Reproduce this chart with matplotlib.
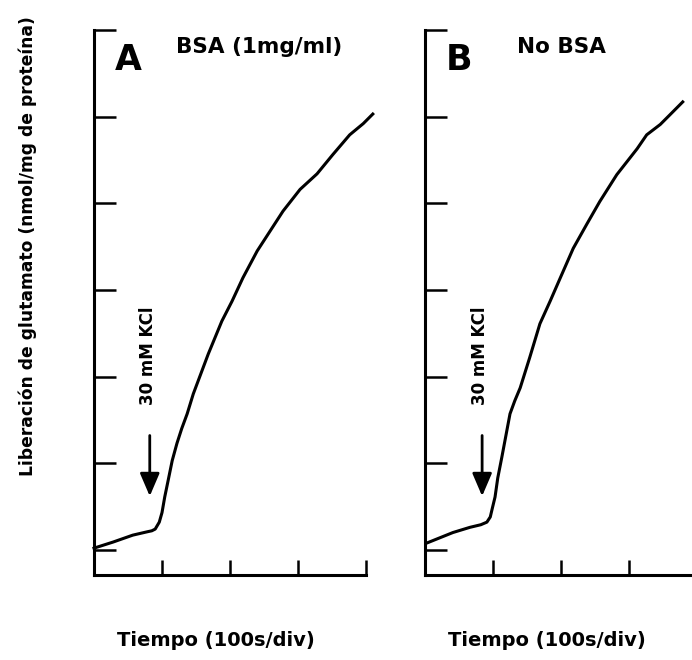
import matplotlib.pyplot as plt

plt.rcParams['font.family'] = ['DejaVu Sans']
plt.rcParams['font.weight'] = 'bold'

# Tiempo en divisiones (100 s/div), liberación en divisiones del eje Y
tiempo_a = [0.0, 0.28, 0.57, 0.79, 0.85, 0.90, 0.96, 1.0, 1.04, 1.09, 1.15,
            1.22, 1.29, 1.37, 1.46, 1.68, 1.88, 2.03, 2.19, 2.40, 2.59, 2.78,
            3.03, 3.28, 3.51, 3.76, 3.96, 4.10]
glu_a = [0.02, 0.09, 0.17, 0.21, 0.22, 0.24, 0.32, 0.43, 0.61, 0.80, 1.03,
         1.23, 1.40, 1.57, 1.80, 2.26, 2.64, 2.87, 3.14, 3.45, 3.68, 3.91,
         4.16, 4.34, 4.56, 4.79, 4.92, 5.03]

tiempo_b = [0.03, 0.41, 0.66, 0.82, 0.91, 0.96, 0.99, 1.03, 1.07, 1.13, 1.19,
            1.25, 1.32, 1.40, 1.54, 1.69, 1.84, 1.99, 2.18, 2.38, 2.57, 2.82,
            2.97, 3.12, 3.26, 3.46, 3.60, 3.79]
glu_b = [0.08, 0.20, 0.26, 0.29, 0.32, 0.38, 0.48, 0.61, 0.83, 1.07, 1.32,
         1.57, 1.72, 1.87, 2.22, 2.61, 2.87, 3.14, 3.48, 3.76, 4.02, 4.33,
         4.48, 4.63, 4.79, 4.91, 5.02, 5.17]

paneles = ["A", "B"]
condiciones = ["BSA (1mg/ml)", "No BSA"]
kcl_t = [0.82, 0.84]      # momento de la adición de KCl
kcl_texto = "30 mM KCl"

fig = plt.figure(figsize=(6.92, 6.60), dpi=100)
W, H = 692, 660

curvas = [(tiempo_a, glu_a), (tiempo_b, glu_b)]
izquierdas = [94, 425]

for i, (t, g) in enumerate(curvas):
    ax = fig.add_axes([izquierdas[i] / W, 85 / H, 272 / W, 545 / H])
    ax.plot(t, g, color='black', lw=2.2, clip_on=False,
            solid_joinstyle='round')

    ax.set_xlim(0, 4)
    ax.set_ylim(-0.29, 6.0)
    ax.set_xticks([1, 2, 3, 4])
    ax.set_yticks(range(7))
    ax.set_xticklabels([])
    ax.set_yticklabels([])
    ax.tick_params(axis='y', direction='in', length=16, width=1.8)
    ax.tick_params(axis='x', direction='in', length=11, width=1.8)
    for lado in ['top', 'right']:
        ax.spines[lado].set_visible(False)
    for lado in ['left', 'bottom']:
        ax.spines[lado].set_linewidth(2.2)
    ax.patch.set_visible(False)

    ax.text(0.125, 0.945, paneles[i], transform=ax.transAxes, fontsize=25,
            ha='center', va='center', fontweight='bold')
    ax.text(0.30 if i == 0 else 0.338, 0.969, condiciones[i],
            transform=ax.transAxes, fontsize=15.5, ha='left', va='center')

    # flecha y rótulo de la despolarización
    ax.annotate("", xy=(kcl_t[i], 0.62), xytext=(kcl_t[i], 1.32),
                arrowprops=dict(arrowstyle='-|>,head_width=0.3,head_length=0.7',
                                mutation_scale=20, lw=2, color='black',
                                shrinkA=0, shrinkB=0))
    ax.text(kcl_t[i] - 0.03, 2.24, kcl_texto, rotation=90, fontsize=12,
            ha='center', va='center')

    fig.text((izquierdas[i] + 122) / W, 1 - 640 / H, "Tiempo (100s/div)",
             fontsize=14, ha='center', va='center')

fig.text(28 / W, 1 - 246 / H, "Liberación de glutamato (nmol/mg de proteína)",
         rotation=90, fontsize=12.3, ha='center', va='center')

fig.savefig("out.png", dpi=100)
